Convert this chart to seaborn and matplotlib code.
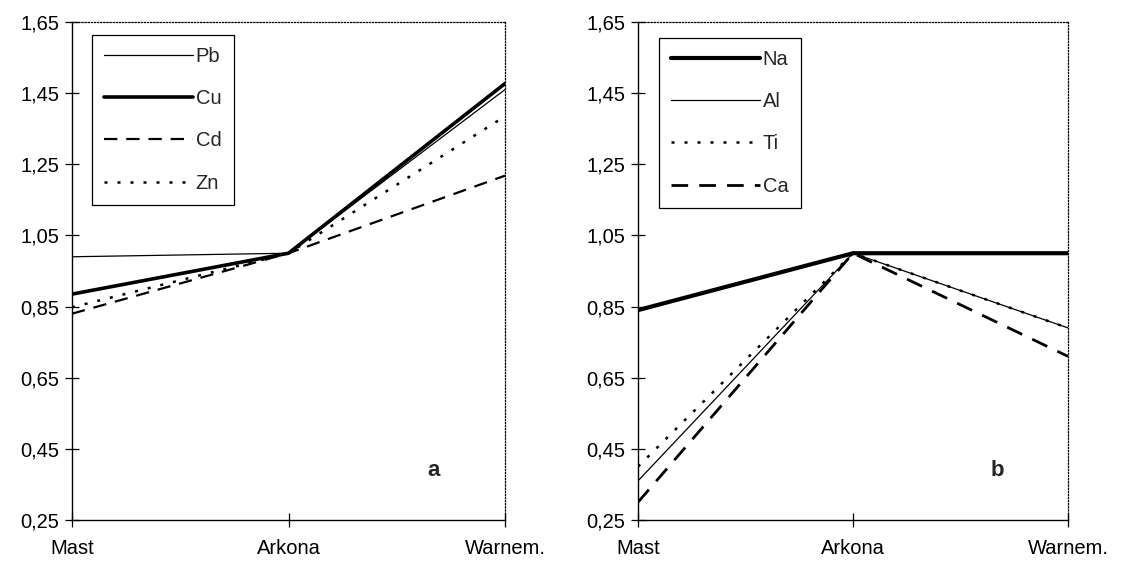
import numpy as np
import pandas as pd
import matplotlib
matplotlib.use("Agg")
import matplotlib.pyplot as plt
import seaborn as sns

sns.set_theme(style="white")
plt.rcParams['font.family'] = ['Liberation Sans', 'DejaVu Sans']

categories = ["Mast", "Arkona", "Warnem."]
yticks = [0.25, 0.45, 0.65, 0.85, 1.05, 1.25, 1.45, 1.65]

# panel a
pb = [0.99, 1.00, 1.46]
cu = [0.885, 1.00, 1.477]
cd = [0.83, 1.00, 1.218]
zn = [0.848, 1.00, 1.385]
# panel b
na = [0.84, 1.00, 1.00]
al = [0.36, 1.00, 0.79]
ti = [0.40, 1.00, 0.79]
ca = [0.30, 1.00, 0.71]

series_a = [("Pb", pb, dict(lw=0.9, ls="-")),
            ("Cu", cu, dict(lw=2.6, ls="-")),
            ("Cd", cd, dict(lw=1.6, ls=(0, (6, 4)))),
            ("Zn", zn, dict(lw=1.8, ls=(0, (1.2, 4))))]
series_b = [("Na", na, dict(lw=3.0, ls="-")),
            ("Al", al, dict(lw=0.9, ls="-")),
            ("Ti", ti, dict(lw=1.8, ls=(0, (1.2, 4)))),
            ("Ca", ca, dict(lw=2.0, ls=(0, (6, 4))))]

fig = plt.figure(figsize=(11.22, 5.69), dpi=100)
W, H = 1122, 569
ax_a = fig.add_axes([72 / W, (H - 520) / H, 433 / W, 498 / H])
ax_b = fig.add_axes([638 / W, (H - 520) / H, 430 / W, 498 / H])

xs = np.arange(len(categories))

def draw(ax, series, label, leg_anchor):
    for name, vals, st in series:
        df = pd.DataFrame({"x": xs, "y": vals})
        sns.lineplot(data=df, x="x", y="y", ax=ax, color="black",
                     linewidth=st["lw"], linestyle=st["ls"], label=name,
                     sort=False, legend=True)
    ax.set_xlim(0, 2)
    ax.set_ylim(0.25, 1.65)
    ax.set_xticks(xs)
    ax.set_xticklabels(categories)
    ax.set_yticks(yticks)
    ax.set_yticklabels([f"{v:.2f}".replace(".", ",") for v in yticks])
    ax.set_xlabel("")
    ax.set_ylabel("")
    ax.tick_params(axis="both", direction="inout", length=10, width=0.9,
                   labelsize=14.5, colors="black", left=True, bottom=True)
    ax.tick_params(axis="x", pad=9)
    ax.tick_params(axis="y", pad=4)
    for s in ["left", "bottom"]:
        ax.spines[s].set_color("black")
        ax.spines[s].set_linewidth(1.0)
    for s in ["top", "right"]:
        ax.spines[s].set_color("black")
        ax.spines[s].set_linewidth(0.9)
        ax.spines[s].set_linestyle((0, (1, 1.5)))
    ax.grid(False)
    ax.text(0.835, 0.10, label, transform=ax.transAxes, fontsize=16,
            fontweight="bold", ha="center", va="center")
    leg = ax.legend(loc="upper left", bbox_to_anchor=leg_anchor,
                    frameon=True, fancybox=False, framealpha=1,
                    edgecolor="black", handlelength=4.4, handletextpad=0.15,
                    labelspacing=1.15, borderpad=0.6, fontsize=14.5,
                    borderaxespad=0)
    leg.get_frame().set_linewidth(0.9)

draw(ax_a, series_a, "a", (20 / 433, 1 - 13 / 498))
draw(ax_b, series_b, "b", (21 / 430, 1 - 16 / 498))

fig.savefig("out.png", dpi=100, facecolor="white")
